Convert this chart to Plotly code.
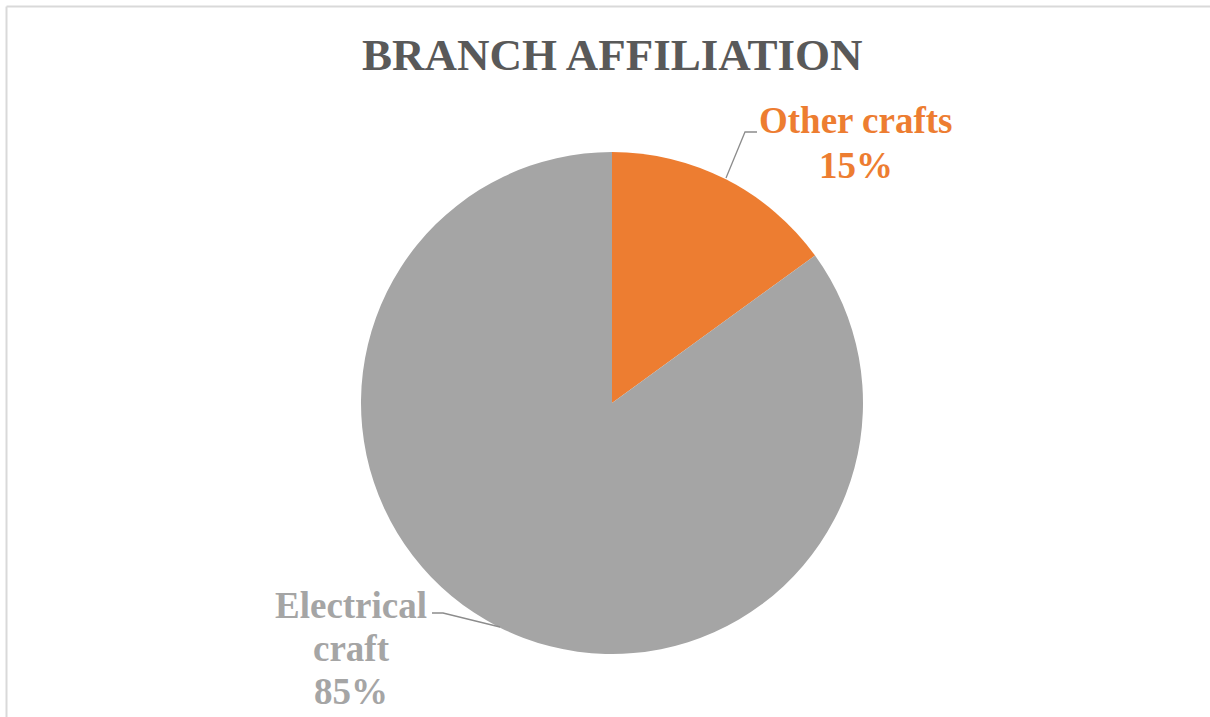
import plotly.graph_objects as go

# Branch affiliation shares (percent)
categories = ["Other crafts", "Electrical craft"]
values = [15, 85]
label_lines = [["Other crafts"], ["Electrical", "craft"]]
colors = ["#ED7D31", "#A5A5A5"]
title_text = "BRANCH AFFILIATION"

W, H = 1210, 717
SERIF = "'Times New Roman', 'Liberation Serif', 'DejaVu Serif', serif"


def px(x):
    return x / W


def py(y):
    return 1 - y / H


fig = go.Figure()

# pie centred at (612, 403) px with radius 251 px
fig.add_trace(go.Pie(
    labels=categories,
    values=values,
    sort=False,
    direction="clockwise",
    rotation=0,
    marker=dict(colors=colors, line=dict(width=0)),
    textinfo="none",
    hoverinfo="label+percent",
    showlegend=False,
    domain=dict(x=[px(612 - 251), px(612 + 251)], y=[py(403 + 251), py(403 - 251)]),
))

total = sum(values)
pcts = [f"{round(v / total * 100)}%" for v in values]

# label layout: (centre x, first line y, line step) in px
label_pos = [(856, 120, 45), (351, 605, 43)]
annotations = []
for lines, pct, col, (cx, y0, step) in zip(label_lines, pcts, colors, label_pos):
    for i, t in enumerate(lines + [pct]):
        annotations.append(dict(
            x=px(cx), y=py(y0 + i * step), xref="paper", yref="paper",
            text=t, showarrow=False, xanchor="center", yanchor="middle",
            font=dict(family=SERIF, size=37, color=col, weight="bold"),
        ))

annotations.append(dict(
    x=px(612), y=py(55), xref="paper", yref="paper",
    text=title_text, showarrow=False, xanchor="center", yanchor="middle",
    font=dict(family=SERIF, size=45, color="#595959", weight="bold"),
))

shapes = []
# leader lines
leaders = [
    [(726, 178), (745, 132), (757, 132)],
    [(500, 627), (443, 613), (432, 613)],
]
for pts in leaders:
    path = "M " + " L ".join(f"{px(x)},{py(y)}" for x, y in pts)
    shapes.append(dict(type="path", path=path, xref="paper", yref="paper",
                       line=dict(color="#8C8C8C", width=1.3)))

# chart frame (top and left edges)
shapes.append(dict(type="line", xref="paper", yref="paper",
                   x0=px(6.5), x1=1, y0=py(6.5), y1=py(6.5),
                   line=dict(color="#D9D9D9", width=2)))
shapes.append(dict(type="line", xref="paper", yref="paper",
                   x0=px(6.5), x1=px(6.5), y0=py(6.5), y1=0,
                   line=dict(color="#D9D9D9", width=2)))

fig.update_layout(
    width=W, height=H,
    margin=dict(l=0, r=0, t=0, b=0),
    paper_bgcolor="white",
    plot_bgcolor="white",
    annotations=annotations,
    shapes=shapes,
)

fig.write_html("out.html")
